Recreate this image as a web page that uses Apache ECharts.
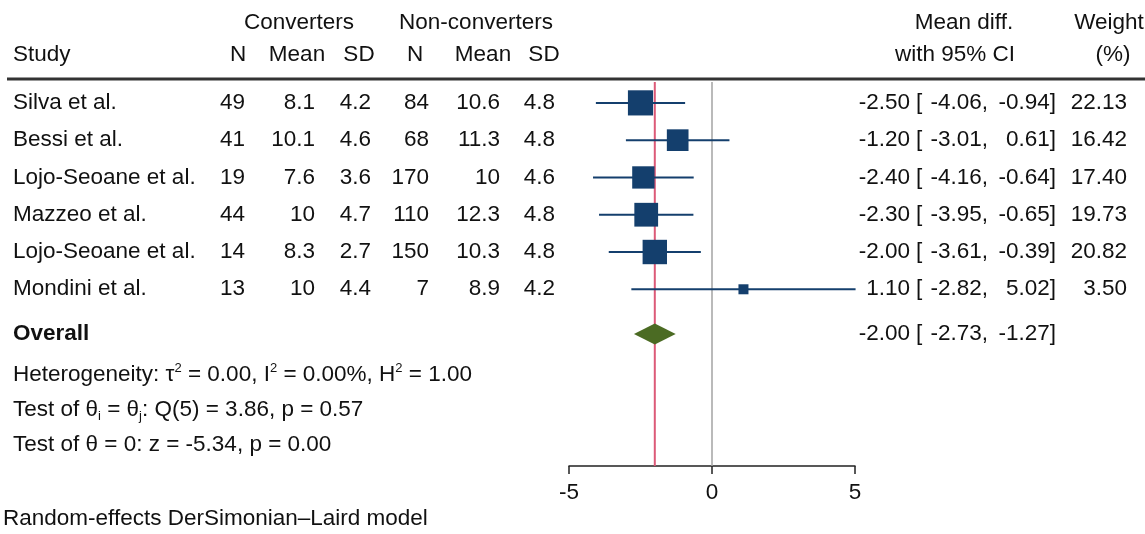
<!DOCTYPE html>
<html>
<head>
<meta charset="utf-8">
<script src="https://cdn.jsdelivr.net/npm/echarts@6/dist/echarts.min.js"></script>
<style>
  html, body { margin: 0; padding: 0; background: #ffffff; }
  #chart { width: 1145px; height: 534px; }
</style>
</head>
<body>
<div id="chart"></div>
<script>
// ---- study data ----
const studies   = ['Silva et al.', 'Bessi et al.', 'Lojo-Seoane et al.', 'Mazzeo et al.', 'Lojo-Seoane et al.', 'Mondini et al.'];
const convN     = [49, 41, 19, 44, 14, 13];
const convMean  = [8.1, 10.1, 7.6, 10, 8.3, 10];
const convSD    = [4.2, 4.6, 3.6, 4.7, 2.7, 4.4];
const nonN      = [84, 68, 170, 110, 150, 7];
const nonMean   = [10.6, 11.3, 10, 12.3, 10.3, 8.9];
const nonSD     = [4.8, 4.8, 4.6, 4.8, 4.8, 4.2];
const meanDiff  = [-2.50, -1.20, -2.40, -2.30, -2.00, 1.10];
const ciLow     = [-4.06, -3.01, -4.16, -3.95, -3.61, -2.82];
const ciHigh    = [-0.94, 0.61, -0.64, -0.65, -0.39, 5.02];
const weights   = [22.13, 16.42, 17.40, 19.73, 20.82, 3.50];

// pooled estimate
const overallEst  = -2.00;
const overallLow  = -2.73;
const overallHigh = -1.27;

const xTicks = [-5, 0, 5];

// ---- styling / layout ----
const FONT = '"Liberation Sans", Arial, Helvetica, sans-serif';
const FS = 22.5;
const INK = '#111111';
const NAVY = '#143f6d';
const OLIVE = '#4b6b23';
const RED = '#dc5a78';
const GREY = '#a3a3a3';

// vertical layout in y-axis units (axis runs bottom→top, 0..Y_SPAN)
const Y_SPAN = 10.3;
const FIRST_ROW = 0.56;    // distance of the first study row below the top
const OVERALL_ROW = 6.76;  // distance of the pooled row below the top
const SQUARE_K = 5.35;     // square side = K * sqrt(weight)
const DIAMOND_H = 21;

// anchor x of table columns (right edges unless noted)
const COL = {
  study: 13, convN: 245, convMean: 315, convSD: 371,
  nonN: 429, nonMean: 500, nonSD: 555,
  est: 910, bracket: 916, low: 988, high: 1056, weight: 1127
};

const fromTop = d => Y_SPAN - d;
const rowY = i => fromTop(FIRST_ROW + i);
const f2 = v => v.toFixed(2);

function cell(x, y, text, align, bold) {
  return {
    type: 'text', x: x, y: y, silent: true,
    style: {
      text: String(text), fill: INK, fontFamily: FONT, fontSize: FS,
      fontWeight: bold ? 'bold' : 'normal',
      align: align, verticalAlign: 'middle'
    }
  };
}

function ciCells(y, est, lo, hi) {
  return [
    cell(COL.est, y, f2(est), 'right'),
    cell(COL.bracket, y, '[', 'left'),
    cell(COL.low, y, f2(lo) + ',', 'right'),
    cell(COL.high, y, f2(hi) + ']', 'right')
  ];
}

const tableData = studies.map((s, i) => [0, rowY(i), i]);
tableData.push([0, fromTop(OVERALL_ROW), studies.length]);

const chart = echarts.init(document.getElementById('chart'), null, { renderer: 'canvas' });

function gtext(x, y, text, align) {
  return {
    type: 'text', x: x, y: y, silent: true,
    style: {
      text: text, fill: INK, fontFamily: FONT, fontSize: FS,
      align: align || 'left', verticalAlign: 'middle'
    }
  };
}

const richBase = {
  n:   { fontFamily: FONT, fontSize: FS, fill: INK, lineHeight: 26 },
  sup: { fontFamily: FONT, fontSize: 13, fill: INK, lineHeight: 13, verticalAlign: 'top' },
  sub: { fontFamily: FONT, fontSize: 13, fill: INK, lineHeight: 13, verticalAlign: 'bottom' }
};

function richText(x, y, text) {
  return {
    type: 'text', x: x, y: y, silent: true,
    style: {
      text: text, fontFamily: FONT, fontSize: FS, fill: INK,
      align: 'left', verticalAlign: 'middle', rich: richBase
    }
  };
}

const option = {
  animation: false,
  backgroundColor: '#ffffff',
  grid: { left: 569, right: 290, top: 82, bottom: 68 },
  xAxis: {
    type: 'value', position: 'bottom',
    min: xTicks[0], max: xTicks[xTicks.length - 1], interval: 5,
    axisLine: { onZero: false, lineStyle: { color: '#222', width: 1.5 } },
    axisTick: { inside: false, length: 8, lineStyle: { color: '#222', width: 1.5 } },
    axisLabel: { fontFamily: FONT, fontSize: FS, color: INK, margin: 15 },
    splitLine: { show: false }
  },
  yAxis: { type: 'value', min: 0, max: Y_SPAN, show: false },
  series: [
    {
      // vertical reference lines: pooled estimate and no effect
      type: 'custom', z: 1, silent: true, clip: false,
      data: [[overallEst, 0], [0, 1]],
      encode: { x: 0 },
      renderItem: function (params, api) {
        const cs = params.coordSys;
        const x = api.coord([api.value(0), 0])[0];
        const isPooled = api.value(1) === 0;
        return {
          type: 'line',
          shape: { x1: x, y1: cs.y, x2: x, y2: cs.y + cs.height },
          style: { stroke: isPooled ? RED : GREY, lineWidth: isPooled ? 2 : 1.5 }
        };
      }
    },
    {
      // study estimates: CI whisker + weight-scaled square
      type: 'custom', z: 3, silent: true, clip: false,
      data: meanDiff.map((d, i) => [d, ciLow[i], ciHigh[i], rowY(i), weights[i]]),
      encode: { x: [0, 1, 2], y: 3 },
      renderItem: function (params, api) {
        const y = api.value(3);
        const c = api.coord([api.value(0), y]);
        const lo = api.coord([api.value(1), y]);
        const hi = api.coord([api.value(2), y]);
        const side = SQUARE_K * Math.sqrt(api.value(4));
        return {
          type: 'group',
          children: [
            { type: 'line', shape: { x1: lo[0], y1: lo[1], x2: hi[0], y2: hi[1] },
              style: { stroke: NAVY, lineWidth: 2 } },
            { type: 'rect', shape: { x: c[0] - side / 2, y: c[1] - side / 2, width: side, height: side },
              style: { fill: NAVY } }
          ]
        };
      }
    },
    {
      // pooled diamond
      type: 'custom', z: 3, silent: true, clip: false,
      data: [[overallEst, overallLow, overallHigh, fromTop(OVERALL_ROW)]],
      encode: { x: [0, 1, 2], y: 3 },
      renderItem: function (params, api) {
        const y = api.value(3);
        const c = api.coord([api.value(0), y]);
        const lo = api.coord([api.value(1), y]);
        const hi = api.coord([api.value(2), y]);
        return {
          type: 'polygon',
          shape: { points: [[lo[0], c[1]], [c[0], c[1] - DIAMOND_H / 2], [hi[0], c[1]], [c[0], c[1] + DIAMOND_H / 2]] },
          style: { fill: OLIVE }
        };
      }
    },
    {
      // table columns, one row per study plus the pooled row
      type: 'custom', z: 4, silent: true, clip: false,
      data: tableData,
      encode: { x: 0, y: 1 },
      renderItem: function (params, api) {
        const i = api.value(2);
        const y = api.coord([0, api.value(1)])[1];
        if (i === studies.length) {
          return { type: 'group', children: [cell(COL.study, y, 'Overall', 'left', true)]
            .concat(ciCells(y, overallEst, overallLow, overallHigh)) };
        }
        return {
          type: 'group',
          children: [
            cell(COL.study, y, studies[i], 'left'),
            cell(COL.convN, y, convN[i], 'right'),
            cell(COL.convMean, y, convMean[i], 'right'),
            cell(COL.convSD, y, convSD[i], 'right'),
            cell(COL.nonN, y, nonN[i], 'right'),
            cell(COL.nonMean, y, nonMean[i], 'right'),
            cell(COL.nonSD, y, nonSD[i], 'right'),
            cell(COL.weight, y, f2(weights[i]), 'right')
          ].concat(ciCells(y, meanDiff[i], ciLow[i], ciHigh[i]))
        };
      }
    }
  ],
  graphic: [
    // column headers
    gtext(299, 23, 'Converters', 'center'),
    gtext(476, 23, 'Non-converters', 'center'),
    gtext(964, 23, 'Mean diff.', 'center'),
    gtext(1109, 23, 'Weight', 'center'),
    gtext(13, 55, 'Study', 'left'),
    gtext(238, 55, 'N', 'center'),
    gtext(297, 55, 'Mean', 'center'),
    gtext(359, 55, 'SD', 'center'),
    gtext(415, 55, 'N', 'center'),
    gtext(483, 55, 'Mean', 'center'),
    gtext(544, 55, 'SD', 'center'),
    gtext(955, 55, 'with 95% CI', 'center'),
    gtext(1113, 55, '(%)', 'center'),
    {
      type: 'line', silent: true,
      shape: { x1: 7, y1: 79, x2: 1145, y2: 79 },
      style: { stroke: '#333333', lineWidth: 3 }
    },
    // heterogeneity and test statistics
    richText(13, 375, '{n|Heterogeneity: τ}{sup|2}{n| = 0.00, I}{sup|2}{n| = 0.00%, H}{sup|2}{n| = 1.00}'),
    richText(13, 410, '{n|Test of θ}{sub|i}{n| = θ}{sub|j}{n|: Q(5) = 3.86, p = 0.57}'),
    richText(13, 445, '{n|Test of θ = 0: z = -5.34, p = 0.00}'),
    gtext(3, 519, 'Random-effects DerSimonian–Laird model', 'left')
  ]
};

chart.setOption(option);
</script>
</body>
</html>
